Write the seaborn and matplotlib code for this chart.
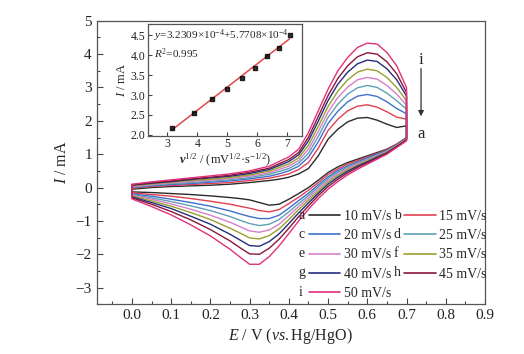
import numpy as np
import pandas as pd
import seaborn as sns
import matplotlib.pyplot as plt
from matplotlib.lines import Line2D
from matplotlib.text import Text
from matplotlib.legend_handler import HandlerBase
from matplotlib.ticker import AutoMinorLocator, FormatStrFormatter

# potential grid (V vs Hg/HgO), forward (anodic) and reverse (cathodic) sweeps
E_fwd = [0.0, 0.05, 0.1, 0.15, 0.2, 0.25, 0.3, 0.35, 0.375, 0.4, 0.425, 0.45,
         0.475, 0.5, 0.525, 0.55, 0.575, 0.6, 0.625, 0.65, 0.675, 0.7]
E_rev = [0.7, 0.675, 0.65, 0.625, 0.6, 0.575, 0.55, 0.525, 0.5, 0.475, 0.45, 0.425,
         0.4, 0.375, 0.35, 0.325, 0.3, 0.275, 0.25, 0.2, 0.15, 0.1, 0.05, 0.0]

# current (mA)
a_fwd = [-0.05, 0.0, 0.03, 0.05, 0.07, 0.1, 0.15, 0.21, 0.25, 0.31, 0.41, 0.57, 0.95, 1.45, 1.75, 1.97, 2.08, 2.1, 2.02, 1.9, 1.8, 1.85]
b_fwd = [-0.02, 0.03, 0.06, 0.09, 0.12, 0.15, 0.21, 0.28, 0.34, 0.41, 0.54, 0.75, 1.18, 1.71, 2.05, 2.3, 2.44, 2.48, 2.41, 2.27, 2.11, 2.05]
c_fwd = [0.0, 0.05, 0.09, 0.12, 0.16, 0.2, 0.26, 0.34, 0.41, 0.5, 0.64, 0.91, 1.37, 1.92, 2.29, 2.57, 2.74, 2.79, 2.73, 2.57, 2.37, 2.21]
d_fwd = [0.02, 0.07, 0.12, 0.15, 0.19, 0.23, 0.3, 0.4, 0.48, 0.57, 0.73, 1.03, 1.53, 2.1, 2.5, 2.8, 2.99, 3.06, 3.0, 2.83, 2.6, 2.35]
e_fwd = [0.03, 0.09, 0.14, 0.18, 0.22, 0.27, 0.34, 0.44, 0.54, 0.64, 0.81, 1.15, 1.68, 2.26, 2.7, 3.01, 3.23, 3.3, 3.25, 3.06, 2.8, 2.47]
f_fwd = [0.05, 0.11, 0.16, 0.21, 0.25, 0.3, 0.38, 0.49, 0.6, 0.71, 0.89, 1.27, 1.83, 2.43, 2.89, 3.23, 3.46, 3.55, 3.5, 3.3, 3.0, 2.6]
g_fwd = [0.07, 0.13, 0.18, 0.24, 0.29, 0.34, 0.42, 0.54, 0.66, 0.78, 0.98, 1.4, 1.99, 2.61, 3.1, 3.46, 3.71, 3.82, 3.78, 3.56, 3.23, 2.74]
h_fwd = [0.08, 0.15, 0.2, 0.26, 0.31, 0.37, 0.46, 0.58, 0.71, 0.84, 1.05, 1.51, 2.13, 2.76, 3.27, 3.65, 3.92, 4.04, 4.0, 3.77, 3.41, 2.85]
i_fwd = [0.1, 0.17, 0.23, 0.29, 0.35, 0.41, 0.5, 0.64, 0.78, 0.92, 1.15, 1.65, 2.3, 2.95, 3.5, 3.9, 4.2, 4.33, 4.3, 4.05, 3.65, 3.0]

a_rev = [1.5, 1.3, 1.15, 1.05, 0.95, 0.85, 0.75, 0.62, 0.45, 0.22, 0.0, -0.18, -0.35, -0.5, -0.53, -0.45, -0.37, -0.33, -0.3, -0.25, -0.21, -0.18, -0.15, -0.13]
b_rev = [1.49, 1.29, 1.13, 1.02, 0.92, 0.81, 0.7, 0.56, 0.39, 0.15, -0.08, -0.29, -0.48, -0.66, -0.73, -0.69, -0.62, -0.56, -0.5, -0.41, -0.33, -0.26, -0.21, -0.16]
c_rev = [1.47, 1.27, 1.11, 1.0, 0.89, 0.77, 0.65, 0.51, 0.32, 0.08, -0.17, -0.39, -0.62, -0.83, -0.93, -0.93, -0.87, -0.79, -0.7, -0.56, -0.45, -0.35, -0.26, -0.19]
d_rev = [1.46, 1.26, 1.09, 0.98, 0.86, 0.74, 0.61, 0.46, 0.27, 0.02, -0.24, -0.48, -0.73, -0.96, -1.1, -1.14, -1.08, -0.98, -0.87, -0.69, -0.55, -0.42, -0.31, -0.21]
e_rev = [1.45, 1.25, 1.08, 0.95, 0.83, 0.71, 0.57, 0.41, 0.21, -0.04, -0.31, -0.57, -0.84, -1.1, -1.27, -1.34, -1.3, -1.17, -1.04, -0.83, -0.65, -0.49, -0.35, -0.23]
f_rev = [1.44, 1.24, 1.06, 0.93, 0.8, 0.67, 0.53, 0.36, 0.16, -0.11, -0.38, -0.66, -0.96, -1.24, -1.44, -1.54, -1.51, -1.36, -1.22, -0.96, -0.75, -0.56, -0.4, -0.25]
g_rev = [1.43, 1.23, 1.04, 0.91, 0.77, 0.64, 0.49, 0.31, 0.1, -0.17, -0.46, -0.76, -1.08, -1.39, -1.62, -1.76, -1.74, -1.57, -1.4, -1.1, -0.86, -0.63, -0.45, -0.28]
h_rev = [1.42, 1.22, 1.02, 0.88, 0.74, 0.6, 0.44, 0.25, 0.03, -0.24, -0.55, -0.87, -1.22, -1.55, -1.82, -2.0, -1.99, -1.8, -1.6, -1.26, -0.97, -0.72, -0.5, -0.31]
i_rev = [1.4, 1.2, 1.0, 0.85, 0.7, 0.55, 0.38, 0.18, -0.05, -0.33, -0.65, -1.0, -1.38, -1.75, -2.07, -2.3, -2.3, -2.08, -1.85, -1.45, -1.12, -0.82, -0.57, -0.34]

letters = ["a", "b", "c", "d", "e", "f", "g", "h", "i"]
rates = ["10 mV/s", "15 mV/s", "20 mV/s", "25 mV/s", "30 mV/s",
         "35 mV/s", "40 mV/s", "45 mV/s", "50 mV/s"]
colors = ["#2b2b2b", "#e2404f", "#3f6fcf", "#5f9fb5", "#d77fc7",
          "#98a02c", "#232d7c", "#87183a", "#e2307c"]
fwd_all = [a_fwd, b_fwd, c_fwd, d_fwd, e_fwd, f_fwd, g_fwd, h_fwd, i_fwd]
rev_all = [a_rev, b_rev, c_rev, d_rev, e_rev, f_rev, g_rev, h_rev, i_rev]

# inset: peak current vs square root of scan rate
sqrt_v = [3.16, 3.87, 4.47, 5.00, 5.48, 5.92, 6.32, 6.71, 7.07]
peak_I = [2.18, 2.55, 2.91, 3.15, 3.43, 3.68, 3.98, 4.19, 4.50]

# build one long table, closing each loop at 0 V
rows = []
for rate, fw, rv in zip(rates, fwd_all, rev_all):
    E = E_fwd + E_rev + [E_fwd[0]]
    I = fw + rv + [fw[0]]
    for k, (e, i) in enumerate(zip(E, I)):
        rows.append((rate, k, e, i))
df = pd.DataFrame(rows, columns=["rate", "step", "E", "I"])

sns.set_style("ticks")
plt.rcParams["font.family"] = ["Liberation Serif", "DejaVu Serif"]
plt.rcParams["mathtext.fontset"] = "custom"
plt.rcParams["mathtext.rm"] = "Liberation Serif"
plt.rcParams["mathtext.it"] = "Liberation Serif:italic"
plt.rcParams["mathtext.bf"] = "Liberation Serif:bold"
plt.rcParams["mathtext.bfit"] = "Liberation Serif:italic:bold"

fig = plt.figure(figsize=(5.24, 3.54), dpi=100)
ax = fig.add_axes([0.1845, 0.1404, 0.741, 0.801])

sns.lineplot(data=df, x="E", y="I", hue="rate", palette=colors, sort=False,
             estimator=None, legend=False, lw=1.0, ax=ax)

ax.set_xlim(-0.09, 0.9)
ax.set_ylim(-3.5, 5.0)
ax.set_xticks(np.arange(0, 0.91, 0.1))
ax.set_yticks(np.arange(-3, 5.1, 1))
ax.xaxis.set_major_formatter(FormatStrFormatter("%.1f"))
ax.xaxis.set_minor_locator(AutoMinorLocator(2))
ax.yaxis.set_minor_locator(AutoMinorLocator(2))
ax.tick_params(which="both", direction="in", colors="#444444", labelcolor="#222222",
               labelsize=11, width=0.8)
ax.tick_params(which="major", length=4)
ax.tick_params(which="minor", length=2.5)
for s in ax.spines.values():
    s.set_color("#555555")
    s.set_linewidth(0.9)
ax.set_xlabel(r"$E$ / V ($vs.$Hg/HgO)", fontsize=11.5, labelpad=3)
ax.set_ylabel(r"$I$ / mA", fontsize=11.5, labelpad=4)

# arrow i -> a
ax.annotate("", xy=(0.737, 2.05), xytext=(0.737, 3.65),
            arrowprops=dict(arrowstyle="-|>", color="#333333", lw=0.9, mutation_scale=8))
ax.text(0.737, 3.82, "i", ha="center", va="center", fontsize=12)
ax.text(0.737, 1.6, "a", ha="center", va="center", fontsize=12)


class LetterHandler(HandlerBase):
    def __init__(self, letter):
        super().__init__()
        self.letter = letter

    def create_artists(self, legend, orig_handle, xdescent, ydescent,
                       width, height, fontsize, trans):
        y = (height - ydescent) / 2
        txt = Text(-xdescent, y, self.letter, fontsize=fontsize, va="center",
                   ha="left", transform=trans)
        ln = Line2D([-xdescent + 0.75 * fontsize, -xdescent + width], [y, y],
                    color=orig_handle.get_color(), lw=orig_handle.get_linewidth(),
                    transform=trans)
        return [txt, ln]


handles = [Line2D([], [], color=c, lw=1.2) for c in colors]
order = [0, 2, 4, 6, 8, 1, 3, 5, 7]
hmap = {h: LetterHandler(l) for h, l in zip(handles, letters)}
ax.legend([handles[k] for k in order], [rates[k] for k in order], handler_map=hmap,
          ncol=2, frameon=False, fontsize=10, handlelength=3.0, handletextpad=0.25,
          columnspacing=0.2, labelspacing=0.45, borderpad=0, borderaxespad=0,
          loc="upper left", bbox_to_anchor=(0.52, 0.333))

# inset
ax2 = fig.add_axes([0.2824, 0.6167, 0.2948, 0.3155])
sns.regplot(x=sqrt_v, y=peak_I, ci=None, ax=ax2, marker="s",
            scatter_kws=dict(s=7, color="black", zorder=3),
            line_kws=dict(color="#e04848", lw=1.1))
ax2.set_xlim(2.35, 7.5)
ax2.set_ylim(1.98, 4.78)
ax2.set_xticks([3, 4, 5, 6, 7])
ax2.set_yticks(np.arange(2.0, 4.51, 0.5))
ax2.yaxis.set_major_formatter(FormatStrFormatter("%.1f"))
ax2.tick_params(direction="in", labelsize=8.5, length=3, width=0.8, pad=2,
                colors="#444444", labelcolor="#222222")
for s in ax2.spines.values():
    s.set_color("#555555")
    s.set_linewidth(0.9)
ax2.set_xlabel(r"$\mathbfit{v}^{1/2}$ / (mV$^{1/2}$·s$^{-1/2}$)", fontsize=9, labelpad=1)
ax2.set_ylabel(r"$I$ / mA", fontsize=9, labelpad=2)
ax2.text(0.04, 0.97, r"$y$=3.2309×10$^{-4}$+5.7708×10$^{-4}$", transform=ax2.transAxes,
         va="top", ha="left", fontsize=8.1)
ax2.text(0.04, 0.80, r"$R^2$=0.995", transform=ax2.transAxes,
         va="top", ha="left", fontsize=8.1)

fig.savefig("out.png", dpi=100)
